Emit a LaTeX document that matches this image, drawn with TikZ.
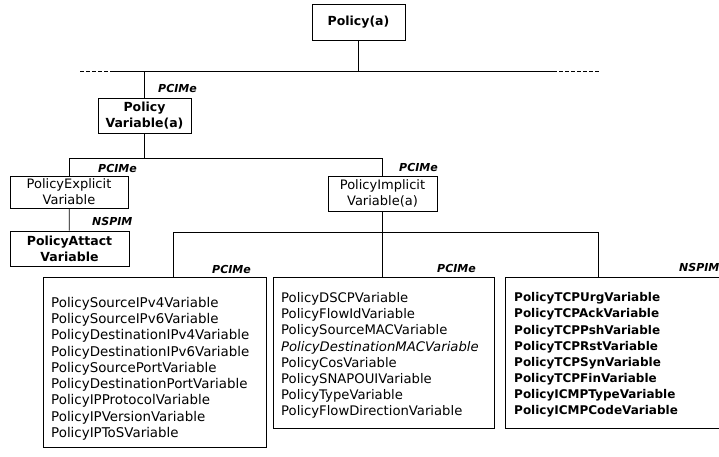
\documentclass[tikz,border=0pt]{standalone}
\usepackage{fontspec}
\setmainfont{DejaVu Sans}
\begin{document}
\begin{tikzpicture}[x=1pt,y=-1pt,
  line/.style={line width=0.8pt},
  classbox/.style={draw, line width=1pt, align=center, inner sep=0pt},
  abstractbox/.style={classbox, font=\fontsize{12.5}{16}\selectfont\bfseries},
  plainbox/.style={classbox, font=\fontsize{13}{16}\selectfont},
  listbox/.style={draw, line width=1pt, inner sep=0pt, anchor=north west},
  listtext/.style={anchor=north west, inner sep=0pt, align=left},
  role/.style={anchor=west, inner sep=0pt, font=\fontsize{11}{13}\selectfont\bfseries\itshape},
]
\fill[white] (0,0) rectangle (719,456);
\useasboundingbox (0,0) rectangle (719,456);

% classes
\node[abstractbox, minimum width=93pt, minimum height=36pt] (policy) at (358.5,22) {Policy(a)};
\node[abstractbox, minimum width=93pt, minimum height=35pt] (pvar) at (144.5,115.5) {Policy\\Variable(a)};
\node[plainbox, minimum width=118pt, minimum height=32pt] (pexp) at (69,192) {PolicyExplicit\\Variable};
\node[abstractbox, minimum width=119pt, minimum height=35pt] (patt) at (69.5,248.5) {PolicyAttact\\Variable};
\node[plainbox, minimum width=109pt, minimum height=35pt] (pimp) at (382.5,193.5) {PolicyImplicit\\Variable(a)};

% leaf class groups
\node[listbox, minimum width=223pt, minimum height=170pt] (lbox) at (43,277) {};
\node[listtext, font=\fontsize{13.4}{16.25}\selectfont] (ltext) at (51,297) {%
PolicySourceIPv4Variable\\
PolicySourceIPv6Variable\\
PolicyDestinationIPv4Variable\\
PolicyDestinationIPv6Variable\\
PolicySourcePortVariable\\
PolicyDestinationPortVariable\\
PolicyIPProtocolVariable\\
PolicyIPVersionVariable\\
PolicyIPToSVariable};

\node[listbox, minimum width=221pt, minimum height=151pt] (mbox) at (273,277) {};
\node[listtext, font=\fontsize{13.2}{16.1}\selectfont] (mtext) at (281,292.5) {%
PolicyDSCPVariable\\
PolicyFlowIdVariable\\
PolicySourceMACVariable\\
\textit{PolicyDestinationMACVariable}\\
PolicyCosVariable\\
PolicySNAPOUIVariable\\
PolicyTypeVariable\\
PolicyFlowDirectionVariable};

\node[listbox, minimum width=222pt, minimum height=151pt] (rbox) at (505,277) {};
\node[listtext, font=\fontsize{12}{16.1}\selectfont\bfseries] (rtext) at (514,292.5) {%
PolicyTCPUrgVariable\\
PolicyTCPAckVariable\\
PolicyTCPPshVariable\\
PolicyTCPRstVariable\\
PolicyTCPSynVariable\\
PolicyTCPFinVariable\\
PolicyICMPTypeVariable\\
PolicyICMPCodeVariable};

% model labels
\node[role] (r1) at (158,88) {PCIMe};
\node[role] (r2) at (98,168) {PCIMe};
\node[role] (r3) at (399,167) {PCIMe};
\node[role] (r4) at (92,221) {NSPIM};
\node[role] (r5) at (212,269) {PCIMe};
\node[role] (r6) at (437,268) {PCIMe};
\node[role] (r7) at (679,267) {NSPIM};

% inheritance bus under Policy(a)
\coordinate (busL) at (80,71);
\coordinate (busLs) at (110,71);
\coordinate (busRs) at (553,71);
\coordinate (busR) at (600,71);
\draw[line] (busLs) -- (busRs);
\draw[line, dash pattern=on 4pt off 2pt] (busL) -- (busLs);
\draw[line, dash pattern=on 4pt off 2pt] (busRs) -- (busR);
\draw[line] (policy) -- (policy |- busL);
\draw[line] (pvar) -- (pvar |- busL);

% PolicyVariable subclasses
\coordinate (j1) at (0,158);
\draw[line] (pvar) -- (pvar |- j1);
\draw[line] (pexp) -- (pexp |- j1) -- (pimp |- j1) -- (pimp);
\draw[line] (pexp) -- (patt);

% PolicyImplicitVariable subclasses
\coordinate (j2L) at (173,232);
\coordinate (j2R) at (598,232);
\draw[line] (pimp) -- (pimp |- mbox.north);
\draw[line] (j2L |- lbox.north) -- (j2L) -- (j2R) -- (j2R |- rbox.north);
\end{tikzpicture}
\end{document}
